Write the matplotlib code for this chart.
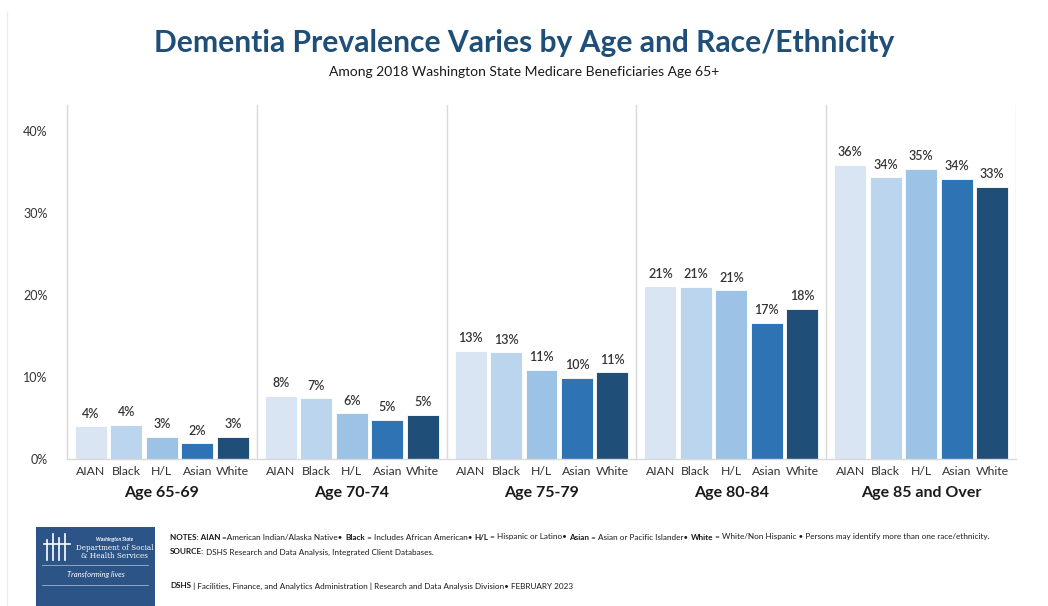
import matplotlib.pyplot as plt
from matplotlib.patches import Rectangle
from matplotlib.lines import Line2D

# Dementia prevalence (%) by age group and race/ethnicity
age_groups = ["Age 65-69", "Age 70-74", "Age 75-79", "Age 80-84", "Age 85 and Over"]
races = ["AIAN", "Black", "H/L", "Asian", "White"]
aian = [4.0, 7.7, 13.2, 21.1, 35.9]
black = [4.2, 7.4, 13.0, 21.0, 34.4]
hisp = [2.7, 5.6, 10.9, 20.6, 35.4]
asian = [1.9, 4.8, 9.9, 16.6, 34.2]
white = [2.7, 5.4, 10.6, 18.3, 33.2]
yticks = [0, 10, 20, 30, 40]

series = [aian, black, hisp, asian, white]
colors = ["#dae5f4", "#bcd5ee", "#9cc2e5", "#2e74b5", "#1f4e79"]
TEXT = "#333333"
GRID = "#d9d9d9"
FONT = "Lato"

plt.rcParams["font.family"] = FONT

fig = plt.figure(figsize=(10.48, 6.06), dpi=100)
ax = fig.add_axes([67 / 1048, 1 - 459 / 606, (1016 - 67) / 1048, (459 - 105) / 606])

group_w = 5.35
pad = 0.175
bar_w = 0.9
for g, label in enumerate(age_groups):
    x0 = g * group_w
    for r, vals in enumerate(series):
        xc = x0 + pad + 0.5 + r
        v = vals[g]
        ax.bar(xc, v, width=bar_w, color=colors[r], edgecolor="white", linewidth=0.6)
        ax.text(xc, v + 0.8, f"{v:.0f}%", ha="center", va="bottom",
                fontsize=9, color=TEXT, fontweight="semibold")
        ax.text(xc, -0.9, races[r], ha="center", va="top", fontsize=8.8,
                color=TEXT, clip_on=False)
    ax.text(x0 + group_w / 2, -3.3, label, ha="center", va="top", fontsize=11.5,
            fontweight="bold", color="#1a1a1a", clip_on=False)
    # divider between age groups
    ax.axvline(x0 + group_w, color=GRID, linewidth=1)

ax.set_xlim(0, 5 * group_w)
ax.set_ylim(0, 43.2)
ax.set_xticks([])
ax.set_yticks(yticks)
ax.set_yticklabels([f"{t}%" for t in yticks], fontsize=9, color=TEXT)
ax.tick_params(axis="y", length=0, pad=14)
for s in ["top", "right"]:
    ax.spines[s].set_visible(False)
for s in ["left", "bottom"]:
    ax.spines[s].set_color(GRID)
    ax.spines[s].set_linewidth(1)

# titles
fig.text(0.5, 1 - 43 / 606, "Dementia Prevalence Varies by Age and Race/Ethnicity",
         ha="center", va="center", fontsize=21.6, fontweight="bold", color="#1f4e79")
fig.text(0.5, 1 - 72 / 606, "Among 2018 Washington State Medicare Beneficiaries Age 65+",
         ha="center", va="center", fontsize=10, color="#1a1a1a")

# faint slide border on the left
fig.add_artist(Line2D([7 / 1048, 7 / 1048], [0, 1 - 12 / 606], color="#ececec",
                      linewidth=1, transform=fig.transFigure))

# agency logo block
logo = Rectangle((36 / 1048, 0), (155 - 36) / 1048, (606 - 527) / 606,
                 transform=fig.transFigure, facecolor="#2c5487", edgecolor="none")
fig.add_artist(logo)
lx = 36 / 1048
fig.text(lx + 0.075, 1 - 540 / 606, "Washington State", fontsize=3.5, color="white",
         ha="center", va="center", style="italic", fontweight="bold")
fig.text(lx + 0.075, 1 - 548 / 606, "Department of Social", fontsize=5.2, color="white",
         ha="center", va="center", family="DejaVu Serif")
fig.text(lx + 0.075, 1 - 556 / 606, "& Health Services", fontsize=5.2, color="white",
         ha="center", va="center", family="DejaVu Serif")
for yy in [565, 585]:
    fig.add_artist(Line2D([lx + 0.006, lx + 0.107], [1 - yy / 606] * 2, color="#9fb4cf",
                          linewidth=0.6, transform=fig.transFigure))
fig.text(lx + 0.057, 1 - 575 / 606, "Transforming lives", fontsize=5.5, color="white",
         ha="center", va="center", style="italic")
# simple figure marks for the emblem
for fx, fh in [(47, 20), (53, 26), (59, 22), (65, 26)]:
    x = fx / 1048
    fig.add_artist(Line2D([x, x], [1 - 560 / 606, 1 - (560 - fh) / 606], color="white",
                          linewidth=1.2, transform=fig.transFigure))
fig.add_artist(Line2D([44 / 1048, 70 / 1048], [1 - 544 / 606] * 2, color="white",
                      linewidth=1.2, transform=fig.transFigure))


def segments(x, y, parts, size):
    """Draw a line of text built from (string, bold) pieces."""
    renderer = fig.canvas.get_renderer()
    for s, bold in parts:
        t = fig.text(x, y, s, fontsize=size, color="#1a1a1a", va="center",
                     fontweight="bold" if bold else "normal")
        bb = t.get_window_extent(renderer=renderer)
        x += bb.width / fig.bbox.width


segments(170 / 1048, 1 - 537 / 606, [
    ("NOTES: AIAN ", True), ("=American Indian/Alaska Native• ", False),
    ("Black", True), (" = Includes African American• ", False),
    ("H/L", True), (" = Hispanic or Latino• ", False),
    ("Asian", True), (" = Asian or Pacific Islander• ", False),
    ("White", True), (" = White/Non Hispanic • Persons may identify more than one race/ethnicity.", False),
], 5.9)
segments(170 / 1048, 1 - 552 / 606, [
    ("SOURCE:", True), (" DSHS Research and Data Analysis, Integrated Client Databases.", False),
], 5.9)
segments(170 / 1048, 1 - 586 / 606, [
    ("DSHS", True),
    (" | Facilities, Finance, and Analytics Administration | Research and Data Analysis Division• FEBRUARY 2023", False),
], 5.9)

fig.savefig("out.png", dpi=100, facecolor="white")
